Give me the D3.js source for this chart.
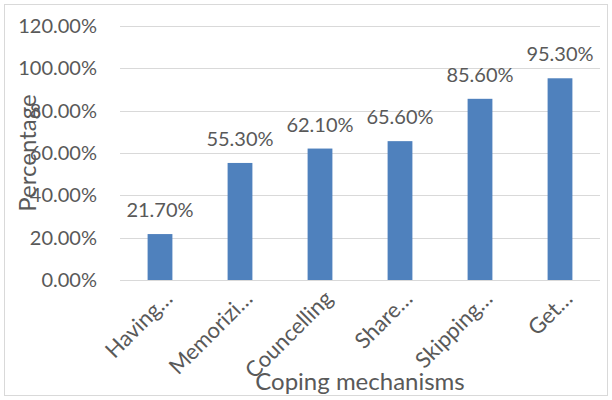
<!DOCTYPE html>
<html>
<head>
<meta charset="utf-8">
<script src="https://cdn.jsdelivr.net/npm/d3@7"></script>
<style>
  body { margin: 0; background: #fff; }
  svg text { font-family: Lato, "Noto Sans", sans-serif; fill: #595959; }
</style>
</head>
<body>
<div id="chart"></div>
<script>
// Chart data
var categories = ['Having\u2026', 'Memorizi\u2026', 'Councelling', 'Share\u2026', 'Skipping\u2026', 'Get\u2026'];
var values = [21.7, 55.3, 62.1, 65.6, 85.6, 95.3];
var yTicks = [0, 20, 40, 60, 80, 100, 120];

var width = 612, height = 400;
var plot = { left: 120, right: 600, top: 26, bottom: 280 };

var svg = d3.select('#chart').append('svg')
    .attr('width', width)
    .attr('height', height);

// chart border
svg.append('rect')
    .attr('x', 4.5).attr('y', 4.5)
    .attr('width', width - 9).attr('height', height - 9)
    .attr('fill', '#fff')
    .attr('stroke', '#d9d9d9');

var x = d3.scaleBand()
    .domain(categories)
    .range([plot.left, plot.right])
    .paddingInner(0.69)
    .paddingOuter(0.345);

var y = d3.scaleLinear()
    .domain([0, 120])
    .range([plot.bottom, plot.top]);

// gridlines
svg.append('g')
    .selectAll('line')
    .data(yTicks)
    .enter()
    .append('line')
    .attr('x1', plot.left)
    .attr('x2', plot.right)
    .attr('y1', function(d) { return Math.round(y(d)) + 0.5; })
    .attr('y2', function(d) { return Math.round(y(d)) + 0.5; })
    .attr('stroke', '#d9d9d9')
    .attr('stroke-width', 1);

// y tick labels
svg.append('g')
    .selectAll('text')
    .data(yTicks)
    .enter()
    .append('text')
    .attr('x', 97)
    .attr('y', function(d) { return y(d) + 7; })
    .attr('text-anchor', 'end')
    .style('font-size', '20px')
    .text(function(d) { return d.toFixed(2) + '%'; });

// bars
svg.append('g')
    .selectAll('rect')
    .data(values)
    .enter()
    .append('rect')
    .attr('x', function(d, i) { return x(categories[i]); })
    .attr('width', x.bandwidth())
    .attr('y', function(d) { return y(d); })
    .attr('height', function(d) { return y(0) - y(d); })
    .attr('fill', '#4f81bd');

// data labels
svg.append('g')
    .selectAll('text')
    .data(values)
    .enter()
    .append('text')
    .attr('x', function(d, i) { return x(categories[i]) + x.bandwidth() / 2; })
    .attr('y', function(d) { return y(d) - 17; })
    .attr('text-anchor', 'middle')
    .style('font-size', '20px')
    .text(function(d) { return d.toFixed(2) + '%'; });

// x tick labels, rotated
svg.append('g')
    .selectAll('text')
    .data(categories)
    .enter()
    .append('text')
    .attr('transform', function(d) {
        var cx = x(d) + x.bandwidth() / 2 + 14;
        return 'translate(' + cx + ',300) rotate(-45)';
    })
    .attr('text-anchor', 'end')
    .style('font-size', '22px')
    .text(function(d) { return d; });

// axis titles
svg.append('text')
    .attr('x', 360)
    .attr('y', 390)
    .attr('text-anchor', 'middle')
    .style('font-size', '24px')
    .text('Coping mechanisms');

svg.append('text')
    .attr('transform', 'translate(36,153) rotate(-90)')
    .attr('text-anchor', 'middle')
    .style('font-size', '24px')
    .text('Percentage');
</script>
</body>
</html>
